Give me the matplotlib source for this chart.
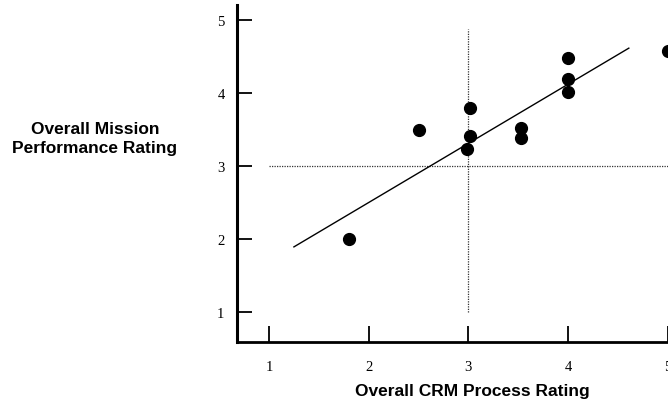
import matplotlib
matplotlib.use("Agg")
import matplotlib.pyplot as plt
import numpy as np

# Data
crm_process = [1.8, 2.5, 3.02, 3.02, 2.99, 3.53, 3.53, 4.0, 4.0, 4.0, 5.0]
mission_perf = [2.0, 3.49, 3.80, 3.41, 3.23, 3.52, 3.38, 4.48, 4.19, 4.02, 4.57]

fit_slope = 0.81
fit_intercept = 0.88
fit_range = [1.25, 4.61]

ref_x = 3.0
ref_x_span = [1.0, 4.88]
ref_y = 3.0
ref_y_span = [1.0, 5.0]

x_ticks = [1, 2, 3, 4, 5]
x_ticklabels = ["1", "2", "3", "4", "5"]
y_ticks = [1, 2, 3, 4, 5]
y_ticklabels = ["1", "2", "3", "4", "5"]

x_label = "Overall CRM Process Rating"
y_label = "Overall Mission\nPerformance Rating"

W, H = 668, 402
fig = plt.figure(figsize=(W / 100, H / 100), dpi=100)
ax = fig.add_axes([237 / W, 1 - 343 / H, 1 - 237 / W, (343 - 6) / H])
ax.set_xlim(0.679, 5.003)
ax.set_ylim(0.59, 5.205)

# reference lines
ax.plot([ref_x, ref_x], ref_x_span, color="#333333", lw=0.9, ls=(0, (1, 1)))
ax.plot(ref_y_span, [ref_y, ref_y], color="#333333", lw=0.9, ls=(0, (1, 1)))

# regression line
fx = np.array(fit_range)
ax.plot(fx, fit_slope * fx + fit_intercept, color="black", lw=1.0)

# points
ax.plot(crm_process, mission_perf, "o", color="black", ms=8.5, clip_on=True)

for s in ["top", "right"]:
    ax.spines[s].set_visible(False)
ax.spines["left"].set_linewidth(2.2)
ax.spines["bottom"].set_linewidth(2.0)

ax.set_xticks(x_ticks)
ax.set_xticklabels(x_ticklabels)
ax.set_yticks(y_ticks)
ax.set_yticklabels(y_ticklabels)
ax.tick_params(axis="x", direction="in", length=11.5, width=1.3, pad=13,
               labelsize=10.5)
ax.tick_params(axis="y", direction="in", length=11, width=1.3, pad=9,
               labelsize=10.5)
for lab in ax.get_xticklabels() + ax.get_yticklabels():
    lab.set_fontfamily("Liberation Serif")

fig.text(472 / W, 1 - 392 / H, x_label, ha="center", va="center",
         fontsize=12.5, fontweight="bold", family="Liberation Sans")
fig.text(95 / W, 1 - 139 / H, y_label, ha="center", va="center",
         fontsize=12.5, fontweight="bold", family="Liberation Sans",
         linespacing=1.3, multialignment="center")

fig.savefig("out.png", dpi=100)
